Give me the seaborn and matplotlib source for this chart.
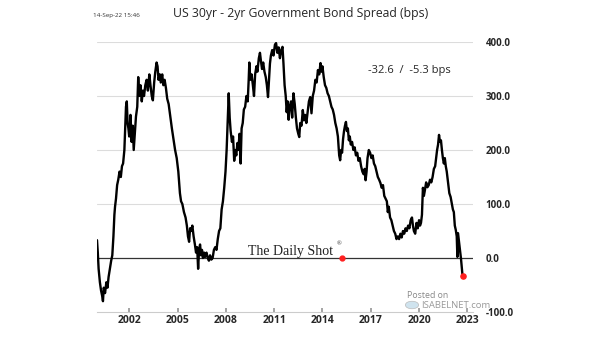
import matplotlib
matplotlib.use("Agg")
import matplotlib.pyplot as plt
import seaborn as sns
import pandas as pd

# ---- data (decimal year, spread in bps) ----
years = [
    2000.00, 2000.05, 2000.10, 2000.18, 2000.25, 2000.32, 2000.37, 2000.42, 2000.50, 2000.58,
    2000.65, 2000.72, 2000.80, 2000.88, 2000.95, 2001.02, 2001.08, 2001.12, 2001.18, 2001.25,
    2001.32, 2001.40, 2001.48, 2001.55, 2001.62, 2001.70, 2001.75, 2001.80, 2001.85, 2001.90,
    2001.95, 2002.00, 2002.08, 2002.15, 2002.22, 2002.28, 2002.35, 2002.42, 2002.50, 2002.56,
    2002.62, 2002.70, 2002.78, 2002.85, 2002.92, 2003.00, 2003.08, 2003.16, 2003.25, 2003.32,
    2003.40, 2003.47, 2003.55, 2003.62, 2003.70, 2003.76, 2003.82, 2003.90, 2003.96, 2004.05,
    2004.12, 2004.20, 2004.28, 2004.36, 2004.45, 2004.55, 2004.65, 2004.75, 2004.85, 2004.95,
    2005.05, 2005.15, 2005.22, 2005.30, 2005.40, 2005.50, 2005.58, 2005.65, 2005.72, 2005.78,
    2005.85, 2005.92, 2006.00, 2006.08, 2006.15, 2006.22, 2006.28, 2006.34, 2006.40, 2006.46,
    2006.52, 2006.58, 2006.65, 2006.72, 2006.80, 2006.88, 2006.95, 2007.02, 2007.10, 2007.18,
    2007.26, 2007.34, 2007.42, 2007.50, 2007.58, 2007.66, 2007.74, 2007.82, 2007.90, 2007.98,
    2008.05, 2008.12, 2008.18, 2008.24, 2008.30, 2008.38, 2008.45, 2008.52, 2008.58, 2008.65,
    2008.72, 2008.78, 2008.85, 2008.92, 2008.98, 2009.05, 2009.12, 2009.20, 2009.28, 2009.36,
    2009.42, 2009.46, 2009.52, 2009.60, 2009.68, 2009.75, 2009.82, 2009.90, 2009.96, 2010.05,
    2010.12, 2010.18, 2010.25, 2010.32, 2010.40, 2010.48, 2010.55, 2010.62, 2010.68, 2010.74,
    2010.80, 2010.88, 2010.96, 2011.05, 2011.12, 2011.20, 2011.28, 2011.36, 2011.44, 2011.52,
    2011.58, 2011.65, 2011.72, 2011.78, 2011.84, 2011.90, 2011.96, 2012.05, 2012.12, 2012.20,
    2012.28, 2012.35, 2012.42, 2012.50, 2012.56, 2012.62, 2012.70, 2012.78, 2012.85, 2012.92,
    2013.00, 2013.08, 2013.16, 2013.24, 2013.32, 2013.40, 2013.48, 2013.56, 2013.64, 2013.72,
    2013.80, 2013.88, 2013.94, 2014.00, 2014.08, 2014.16, 2014.24, 2014.32, 2014.40, 2014.48,
    2014.56, 2014.64, 2014.72, 2014.80, 2014.88, 2014.96, 2015.04, 2015.10, 2015.16, 2015.22,
    2015.28, 2015.34, 2015.40, 2015.46, 2015.52, 2015.58, 2015.64, 2015.70, 2015.76, 2015.84,
    2015.92, 2016.00, 2016.08, 2016.16, 2016.24, 2016.32, 2016.40, 2016.48, 2016.56, 2016.62,
    2016.68, 2016.74, 2016.80, 2016.88, 2016.96, 2017.04, 2017.12, 2017.20, 2017.28, 2017.36,
    2017.44, 2017.52, 2017.60, 2017.68, 2017.76, 2017.84, 2017.92, 2018.00, 2018.06, 2018.12,
    2018.20, 2018.28, 2018.36, 2018.44, 2018.52, 2018.60, 2018.68, 2018.76, 2018.84, 2018.92,
    2019.00, 2019.08, 2019.16, 2019.24, 2019.32, 2019.40, 2019.48, 2019.56, 2019.62, 2019.68,
    2019.76, 2019.84, 2019.92, 2020.00, 2020.06, 2020.12, 2020.18, 2020.24, 2020.30, 2020.36,
    2020.44, 2020.52, 2020.60, 2020.68, 2020.76, 2020.84, 2020.92, 2021.00, 2021.06, 2021.12,
    2021.18, 2021.24, 2021.30, 2021.36, 2021.42, 2021.48, 2021.54, 2021.60, 2021.66, 2021.72,
    2021.80, 2021.88, 2021.96, 2022.04, 2022.10, 2022.16, 2022.22, 2022.28, 2022.34, 2022.38,
    2022.42, 2022.48, 2022.54, 2022.60, 2022.66, 2022.70,
]
spread_bps = [
    33, 10, -20, -45, -60, -70, -80, -55, -65, -45,
    -55, -35, -20, -5, 5, 40, 80, 95, 110, 135,
    145, 160, 150, 170, 175, 200, 240, 280, 290, 250,
    240, 225, 265, 215, 245, 200, 230, 262, 280, 335,
    300, 320, 290, 310, 300, 320, 330, 310, 340, 320,
    300, 292, 325, 345, 362, 355, 330, 340, 325, 340,
    320, 330, 315, 295, 285, 262, 240, 220, 200, 185,
    160, 120, 105, 100, 85, 75, 60, 40, 30, 55,
    50, 60, 40, 25, 10, 20, -20, 15, 25, 5,
    15, 0, 10, 2, 10, 0, -5, 5, -3, 0,
    15, 20, 15, 35, 50, 55, 90, 105, 130, 160,
    200, 255, 305, 260, 235, 215, 225, 180, 200, 190,
    213, 200, 230, 175, 240, 250, 275, 280, 300, 290,
    330, 362, 330, 340, 320, 300, 340, 355, 345, 370,
    380, 365, 350, 362, 345, 335, 320, 298, 330, 360,
    375, 385, 375, 395, 398, 380, 390, 370, 385, 391,
    360, 320, 300, 270, 290, 256, 280, 290, 260, 305,
    285, 260, 240, 230, 224, 250, 245, 274, 255, 265,
    250, 270, 290, 298, 268, 300, 310, 330, 325, 348,
    340, 361, 345, 355, 335, 320, 315, 305, 300, 290,
    280, 275, 265, 250, 240, 225, 190, 181, 200, 195,
    220, 235, 245, 252, 235, 240, 218, 225, 210, 215,
    200, 205, 190, 195, 180, 185, 170, 160, 155, 165,
    144, 160, 185, 200, 195, 185, 190, 175, 170, 160,
    150, 145, 139, 130, 135, 115, 110, 105, 85, 95,
    75, 70, 60, 50, 45, 35, 40, 35, 45, 38,
    50, 45, 55, 50, 60, 55, 70, 75, 60, 50,
    45, 65, 55, 70, 60, 65, 80, 130, 115, 125,
    140, 131, 135, 145, 140, 150, 165, 170, 185, 200,
    210, 228, 215, 218, 200, 185, 175, 185, 170, 160,
    140, 120, 113, 100, 90, 85, 60, 52, 40, 2,
    46, 30, 15, 0, -20, -32.6,
]
x_ticks = [2002, 2005, 2008, 2011, 2014, 2017, 2020, 2023]
y_ticks = [-100, 0, 100, 200, 300, 400]
title = "US 30yr - 2yr Government Bond Spread (bps)"
stamp = "14-Sep-22 15:46"
latest_label = "-32.6  /  -5.3 bps"

df = pd.DataFrame({"year": years, "spread": spread_bps})

sns.set_theme(style="white")
plt.rcParams["font.family"] = ["Open Sans", "DejaVu Sans"]

fig = plt.figure(figsize=(6.05, 3.41), dpi=100)
ax = fig.add_axes([97 / 605, 1 - 312 / 341, (473 - 97) / 605, (312 - 42) / 341])

# grid lines
for v in [100, 200, 300, 400]:
    ax.axhline(v, color="#dcdcdc", lw=0.8, zorder=0)
# zero line
ax.axhline(0, color="#333333", lw=0.9, zorder=1)

sns.lineplot(data=df, x="year", y="spread", ax=ax, color="black", lw=1.7, zorder=3)

# last value marker
ax.scatter([years[-1]], [spread_bps[-1]], color="#ff2020", s=14, zorder=5, clip_on=False)

ax.set_xlim(2000.0, 2023.35)
ax.set_ylim(-100, 400)
ax.set_xticks(x_ticks)
ax.set_xticklabels([str(t) for t in x_ticks], fontweight="bold", fontsize=7.5)
ax.set_yticks(y_ticks)
ax.set_yticklabels([f"{t:.1f}" for t in y_ticks], fontweight="bold", fontsize=7)
ax.yaxis.tick_right()
ax.tick_params(axis="y", length=0, pad=9)
ax.tick_params(axis="x", direction="in", length=3, color="#999999", pad=2, bottom=True)
ax.set_xlabel("")
ax.set_ylabel("")
for s in ["top", "left", "right"]:
    ax.spines[s].set_visible(False)
ax.spines["bottom"].set_color("#cccccc")
ax.spines["bottom"].set_linewidth(0.8)

# texts
fig.text(301 / 605, 1 - 13 / 341, title, ha="center", va="center", fontsize=8.8)
fig.text(93 / 605, 1 - 15 / 341, stamp, ha="left", va="center", fontsize=4.5, color="#333333")
fig.text(368 / 605, 1 - 70 / 341, latest_label, ha="left", va="center", fontsize=8)

# The Daily Shot watermark
fig.text(248 / 605, 1 - 251 / 341, "The Daily Shot", ha="left", va="center",
         fontsize=10, family=["Liberation Serif"], color="#222222", zorder=4)
fig.text(337 / 605, 1 - 244 / 341, "®", ha="left", va="center", fontsize=4.5,
         family=["Liberation Serif"], color="#222222")
ax.plot([(342 - 97) / 376], [(312 - 258) / 270], "o", color="#ff2020",
        ms=3.5, transform=ax.transAxes, zorder=5, clip_on=False)

# Posted on ISABELNET watermark
fig.text(407 / 605, 1 - 295 / 341, "Posted on", ha="left", va="center", fontsize=6.3, color="#888888")
fig.text(421 / 605, 1 - 305 / 341, "ISABELNET.com", ha="left", va="center", fontsize=6.8,
         color="#999999")
fig.patches.append(plt.Circle((412 / 605, 1 - 305 / 341), 0.011, transform=fig.transFigure,
                              facecolor="#cfe3ee", edgecolor="#bbbbbb", lw=0.5))

fig.savefig("out.png", dpi=100)
